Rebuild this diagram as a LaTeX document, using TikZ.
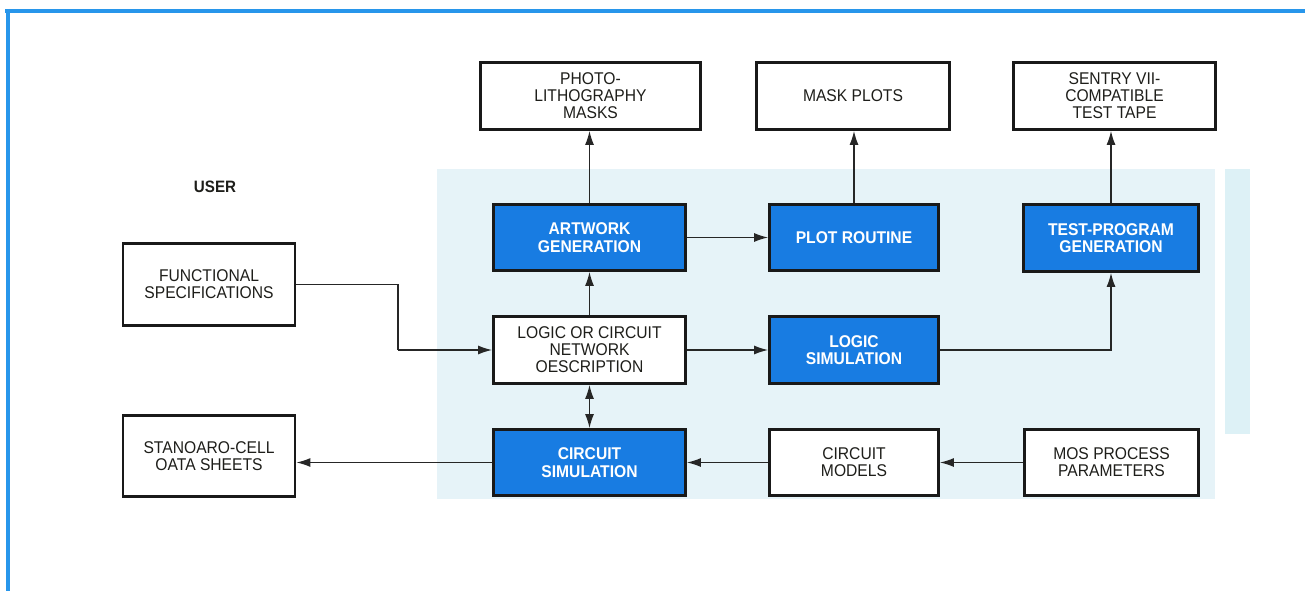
\documentclass[tikz,border=0pt]{standalone}
\usepackage{fontspec}
\setmainfont{Liberation Sans}
\newfontfamily\tallfont{Liberation Sans}[FakeStretch=0.92]
\usetikzlibrary{arrows.meta}
\definecolor{boxblue}{RGB}{24,124,226}
\definecolor{bgblue}{RGB}{230,243,248}
\definecolor{stripblue}{RGB}{221,241,246}
\definecolor{frameblue}{RGB}{40,150,235}
\definecolor{inkdark}{RGB}{30,30,26}
\begin{document}
\begin{tikzpicture}[x=1pt,y=-1pt,
  box/.style={draw=black!90, line width=2.8pt, align=center, inner sep=2pt,
    font=\tallfont\fontsize{17}{17}\selectfont, text=inkdark},
  whitebox/.style={box, fill=white},
  bluebox/.style={box, fill=boxblue, text=white, font=\tallfont\fontsize{17}{17.5}\selectfont\bfseries},
  conn/.style={draw=black!85, line width=1.3pt, -{Latex[length=14pt,width=9pt]}},
  dconn/.style={draw=black!85, line width=1.3pt, {Latex[length=14pt,width=9pt]}-{Latex[length=14pt,width=9pt]}},
  plain/.style={draw=black!85, line width=1.3pt},
  frame/.style={draw=frameblue, line width=4pt}
]
\useasboundingbox (0,0) rectangle (1305,591);
% frame
\draw[frame] (5,11) -- (1305,11);
\draw[frame] (7.5,9) -- (7.5,591);
% background panels
\fill[bgblue] (437,169) rectangle (1215,499);
\fill[stripblue] (1225,169) rectangle (1250,434);
% label
\node[font=\tallfont\fontsize{16.5}{17}\selectfont\bfseries, text=inkdark] (user) at (215,187) {USER};
% top outputs
\node[whitebox, minimum width=220, minimum height=67] (photo) at (590.5,96) {PHOTO-\\LITHOGRAPHY\\MASKS};
\node[whitebox, minimum width=193, minimum height=67] (maskplots) at (853,96) {MASK PLOTS};
\node[whitebox, minimum width=202, minimum height=67] (sentry) at (1114.5,96) {SENTRY VII-\\COMPATIBLE\\TEST TAPE};
% blue row 1
\node[bluebox, minimum width=192, minimum height=66] (artwork) at (589.5,237.5) {ARTWORK\\GENERATION};
\node[bluebox, minimum width=169, minimum height=66] (plot) at (854,237.5) {PLOT ROUTINE};
\node[bluebox, minimum width=175, minimum height=67] (testprog) at (1111,238) {TEST-PROGRAM\\GENERATION};
% row 2
\node[whitebox, minimum width=172, minimum height=82] (func) at (209,284.5) {FUNCTIONAL\\SPECIFICATIONS};
\node[whitebox, minimum width=192, minimum height=67] (logic) at (589.5,350) {LOGIC OR CIRCUIT\\NETWORK\\OESCRIPTION};
\node[bluebox, minimum width=169, minimum height=67] (logicsim) at (854,350) {LOGIC\\SIMULATION};
% row 3
\node[whitebox, minimum width=172, minimum height=81] (stdcell) at (209,456) {STANOARO-CELL\\OATA SHEETS};
\node[bluebox, minimum width=192, minimum height=66] (circsim) at (589.5,462.5) {CIRCUIT\\SIMULATION};
\node[whitebox, minimum width=169, minimum height=66] (models) at (854,462.5) {CIRCUIT\\MODELS};
\node[whitebox, minimum width=174, minimum height=66] (mos) at (1111.5,462.5) {MOS PROCESS\\PARAMETERS};
% connectors
\draw[conn] (artwork.north) -- (artwork.north |- photo.south);
\draw[conn] (plot.north) -- (plot.north |- maskplots.south);
\draw[conn] (testprog.north) -- (testprog.north |- sentry.south);
\draw[conn] (artwork.east) -- (plot.west);
\draw[conn] (logic.north) -- (artwork.south);
\draw[dconn] (logic.south) -- (circsim.north);
\draw[conn] (logic.east) -- (logicsim.west);
\draw[conn] (logicsim.east) -| (testprog.south);
\coordinate (fbend) at (398,350);
\draw[plain] (func.east) -| (fbend);
\draw[conn] (fbend) -- (logic.west);
\draw[conn] (circsim.west) -- (circsim.west -| stdcell.east);
\draw[conn] (models.west) -- (circsim.east);
\draw[conn] (mos.west) -- (models.east);
\end{tikzpicture}
\end{document}
